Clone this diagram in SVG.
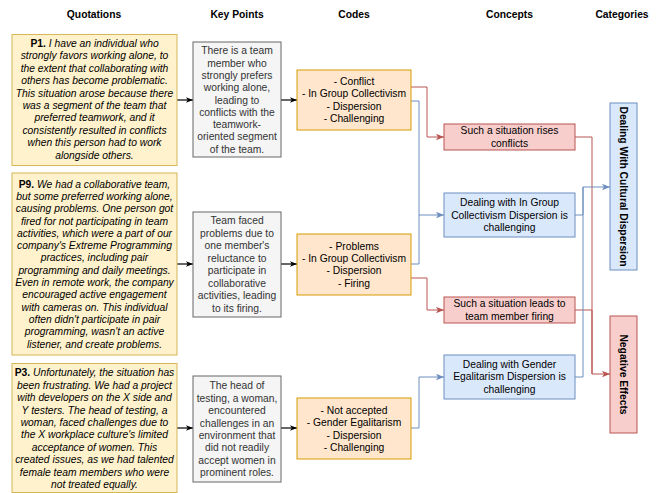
<svg xmlns="http://www.w3.org/2000/svg" width="665" height="493" viewBox="0 0 665 493">
<defs>
<style>
text{font-family:"Liberation Sans",Arial,Helvetica,sans-serif;font-size:10.3px;text-anchor:middle}
.h{font-weight:bold;fill:#000}
.q{font-style:italic;fill:#000}
.pb{font-weight:bold;font-style:normal}
.k{fill:#333}
.c{fill:#000}
.cat{font-weight:bold;fill:#000}
.yel{fill:#fff2cc;stroke:#d6b656}
.gry{fill:#f5f5f5;stroke:#666}
.org{fill:#ffe6cc;stroke:#d79b00}
.red{fill:#f8cecc;stroke:#b85450}
.blu{fill:#dae8fc;stroke:#6c8ebf}
.lk{fill:none;stroke:#000;stroke-width:1.2}
.lr{fill:none;stroke:#b85450;stroke-width:1}
.lb{fill:none;stroke:#6c8ebf;stroke-width:1}
</style>
<marker id="ak" viewBox="0 0 10 8" refX="10" refY="4" markerWidth="7" markerHeight="6" markerUnits="userSpaceOnUse" orient="auto"><path d="M0,0 L10,4 L0,8 L2.5,4 z" fill="#000"/></marker>
<marker id="ar" viewBox="0 0 10 8" refX="10" refY="4" markerWidth="8" markerHeight="7" markerUnits="userSpaceOnUse" orient="auto"><path d="M0,0 L10,4 L0,8 L2.5,4 z" fill="#b85450"/></marker>
<marker id="ab" viewBox="0 0 10 8" refX="10" refY="4" markerWidth="8" markerHeight="7" markerUnits="userSpaceOnUse" orient="auto"><path d="M0,0 L10,4 L0,8 L2.5,4 z" fill="#6c8ebf"/></marker>
</defs>
<rect width="665" height="493" fill="#fff"/>

<g id="headers">
<text class="h" x="94" y="17.6">Quotations</text>
<text class="h" x="237" y="17.6">Key Points</text>
<text class="h" x="354" y="17.6">Codes</text>
<text class="h" x="509.5" y="17.6">Concepts</text>
<text class="h" x="622" y="17.6">Categories</text>
</g>

<g id="connectors">
<path class="lk" d="M177,100 H193" marker-end="url(#ak)"/>
<path class="lk" d="M281,100 H297" marker-end="url(#ak)"/>
<path class="lk" d="M177,264 H193" marker-end="url(#ak)"/>
<path class="lk" d="M281,264 H297" marker-end="url(#ak)"/>
<path class="lk" d="M177,428 H193" marker-end="url(#ak)"/>
<path class="lk" d="M281,428 H297" marker-end="url(#ak)"/>
<path class="lr" d="M411,87 H427 V137 H444" marker-end="url(#ar)"/>
<path class="lb" d="M411,101 H419 V215 H444" marker-end="url(#ab)"/>
<path class="lb" d="M411,264 H419 V215"/>
<path class="lr" d="M411,278 H427 V310 H444" marker-end="url(#ar)"/>
<path class="lb" d="M411,428 H419 V377 H444" marker-end="url(#ab)"/>
<path class="lr" d="M575,137 H592 V374 H610" marker-end="url(#ar)"/>
<path class="lr" d="M575,310 H592 V374"/>
<path class="lb" d="M575,215 H583 V187 H610" marker-end="url(#ab)"/>
<path class="lb" d="M575,377 H583 V187"/>
</g>

<g id="q1">
<rect class="yel" x="12" y="34.5" width="165" height="131"/>
<text class="q"><tspan x="94.5" y="47"><tspan class="pb">P1.</tspan> I have an individual who</tspan><tspan x="94.5" y="59.4">strongly favors working alone, to</tspan><tspan x="94.5" y="71.8">the extent that collaborating with</tspan><tspan x="94.5" y="84.2">others has become problematic.</tspan><tspan x="94.5" y="96.6">This situation arose because there</tspan><tspan x="94.5" y="109">was a segment of the team that</tspan><tspan x="94.5" y="121.4">preferred teamwork, and it</tspan><tspan x="94.5" y="133.8">consistently resulted in conflicts</tspan><tspan x="94.5" y="146.2">when this person had to work</tspan><tspan x="94.5" y="158.6">alongside others.</tspan></text>
</g>

<g id="q2">
<rect class="yel" x="12" y="173" width="165" height="182"/>
<text class="q"><tspan x="94.5" y="187.6"><tspan class="pb">P9.</tspan> We had a collaborative team,</tspan><tspan x="94.5" y="199.9">but some preferred working alone,</tspan><tspan x="94.5" y="212.2">causing problems. One person got</tspan><tspan x="94.5" y="224.5">fired for not participating in team</tspan><tspan x="94.5" y="236.8">activities, which were a part of our</tspan><tspan x="94.5" y="249.1">company's Extreme Programming</tspan><tspan x="94.5" y="261.4">practices, including pair</tspan><tspan x="94.5" y="273.7">programming and daily meetings.</tspan><tspan x="94.5" y="286">Even in remote work, the company</tspan><tspan x="94.5" y="298.3">encouraged active engagement</tspan><tspan x="94.5" y="310.6">with cameras on. This individual</tspan><tspan x="94.5" y="322.9">often didn't participate in pair</tspan><tspan x="94.5" y="335.2">programming, wasn't an active</tspan><tspan x="94.5" y="347.5">listener, and create problems.</tspan></text>
</g>

<g id="q3">
<rect class="yel" x="12" y="363.5" width="165" height="129"/>
<text class="q"><tspan x="94.5" y="376.3"><tspan class="pb">P3.</tspan> Unfortunately, the situation has</tspan><tspan x="94.5" y="388.7">been frustrating. We had a project</tspan><tspan x="94.5" y="401.1">with developers on the X side and</tspan><tspan x="94.5" y="413.5">Y testers. The head of testing, a</tspan><tspan x="94.5" y="425.9">woman, faced challenges due to</tspan><tspan x="94.5" y="438.3">the X workplace culture's limited</tspan><tspan x="94.5" y="450.7">acceptance of women. This</tspan><tspan x="94.5" y="463.1">created issues, as we had talented</tspan><tspan x="94.5" y="475.5">female team members who were</tspan><tspan x="94.5" y="487.9">not treated equally.</tspan></text>
</g>

<g id="k1">
<rect class="gry" x="193" y="42" width="88" height="115"/>
<text class="k"><tspan x="237" y="54.3">There is a team</tspan><tspan x="237" y="66.6">member who</tspan><tspan x="237" y="78.9">strongly prefers</tspan><tspan x="237" y="91.2">working alone,</tspan><tspan x="237" y="103.5">leading to</tspan><tspan x="237" y="115.8">conflicts with the</tspan><tspan x="237" y="128.1">teamwork-</tspan><tspan x="237" y="140.4">oriented segment</tspan><tspan x="237" y="152.7">of the team.</tspan></text>
</g>

<g id="k2">
<rect class="gry" x="193" y="212" width="88" height="105"/>
<text class="k"><tspan x="237" y="224.3">Team faced</tspan><tspan x="237" y="236.8">problems due to</tspan><tspan x="237" y="249.3">one member's</tspan><tspan x="237" y="261.8">reluctance to</tspan><tspan x="237" y="274.3">participate in</tspan><tspan x="237" y="286.8">collaborative</tspan><tspan x="237" y="299.3">activities, leading</tspan><tspan x="237" y="311.8">to its firing.</tspan></text>
</g>

<g id="k3">
<rect class="gry" x="193" y="376" width="88" height="106"/>
<text class="k"><tspan x="237" y="389.3">The head of</tspan><tspan x="237" y="401.7">testing, a woman,</tspan><tspan x="237" y="414.1">encountered</tspan><tspan x="237" y="426.5">challenges in an</tspan><tspan x="237" y="438.9">environment that</tspan><tspan x="237" y="451.3">did not readily</tspan><tspan x="237" y="463.7">accept women in</tspan><tspan x="237" y="476.1">prominent roles.</tspan></text>
</g>

<g id="c1">
<rect class="org" x="297" y="70" width="114" height="60"/>
<text class="c"><tspan x="354" y="85.1">- Conflict</tspan><tspan x="354" y="97.4">- In Group Collectivism</tspan><tspan x="354" y="109.7">- Dispersion</tspan><tspan x="354" y="122">- Challenging</tspan></text>
</g>

<g id="c2">
<rect class="org" x="297" y="234" width="114" height="61"/>
<text class="c"><tspan x="354" y="249.6">- Problems</tspan><tspan x="354" y="261.9">- In Group Collectivism</tspan><tspan x="354" y="274.2">- Dispersion</tspan><tspan x="354" y="286.5">- Firing</tspan></text>
</g>

<g id="c3">
<rect class="org" x="297" y="398" width="114" height="61"/>
<text class="c"><tspan x="354" y="414.1">- Not accepted</tspan><tspan x="354" y="426.4">- Gender Egalitarism</tspan><tspan x="354" y="438.8">- Dispersion</tspan><tspan x="354" y="451.1">- Challenging</tspan></text>
</g>

<g id="con1">
<rect class="red" x="444" y="124" width="131" height="26"/>
<text class="c"><tspan x="509.5" y="134.3">Such a situation rises</tspan><tspan x="509.5" y="146.9">conflicts</tspan></text>
</g>

<g id="con2">
<rect class="blu" x="444" y="193" width="131" height="44"/>
<text class="c"><tspan x="509.5" y="206.3">Dealing with In Group</tspan><tspan x="509.5" y="218.5">Collectivism Dispersion is</tspan><tspan x="509.5" y="230.7">challenging</tspan></text>
</g>

<g id="con3">
<rect class="red" x="444" y="297" width="131" height="26"/>
<text class="c"><tspan x="509.5" y="306.9">Such a situation leads to</tspan><tspan x="509.5" y="319.5">team member firing</tspan></text>
</g>

<g id="con4">
<rect class="blu" x="444" y="355" width="131" height="44"/>
<text class="c"><tspan x="509.5" y="367.9">Dealing with Gender</tspan><tspan x="509.5" y="380.3">Egalitarism Dispersion is</tspan><tspan x="509.5" y="392.7">challenging</tspan></text>
</g>

<g id="cat1">
<rect class="blu" x="610" y="103" width="27" height="167"/>
<text class="cat" transform="translate(623.5,186.5) rotate(90)" x="0" y="3.6">Dealing With Cultural Dispersion</text>
</g>

<g id="cat2">
<rect class="red" x="610" y="316" width="27" height="117"/>
<text class="cat" transform="translate(623.5,374.5) rotate(90)" x="0" y="3.6">Negative Effects</text>
</g>
</svg>
